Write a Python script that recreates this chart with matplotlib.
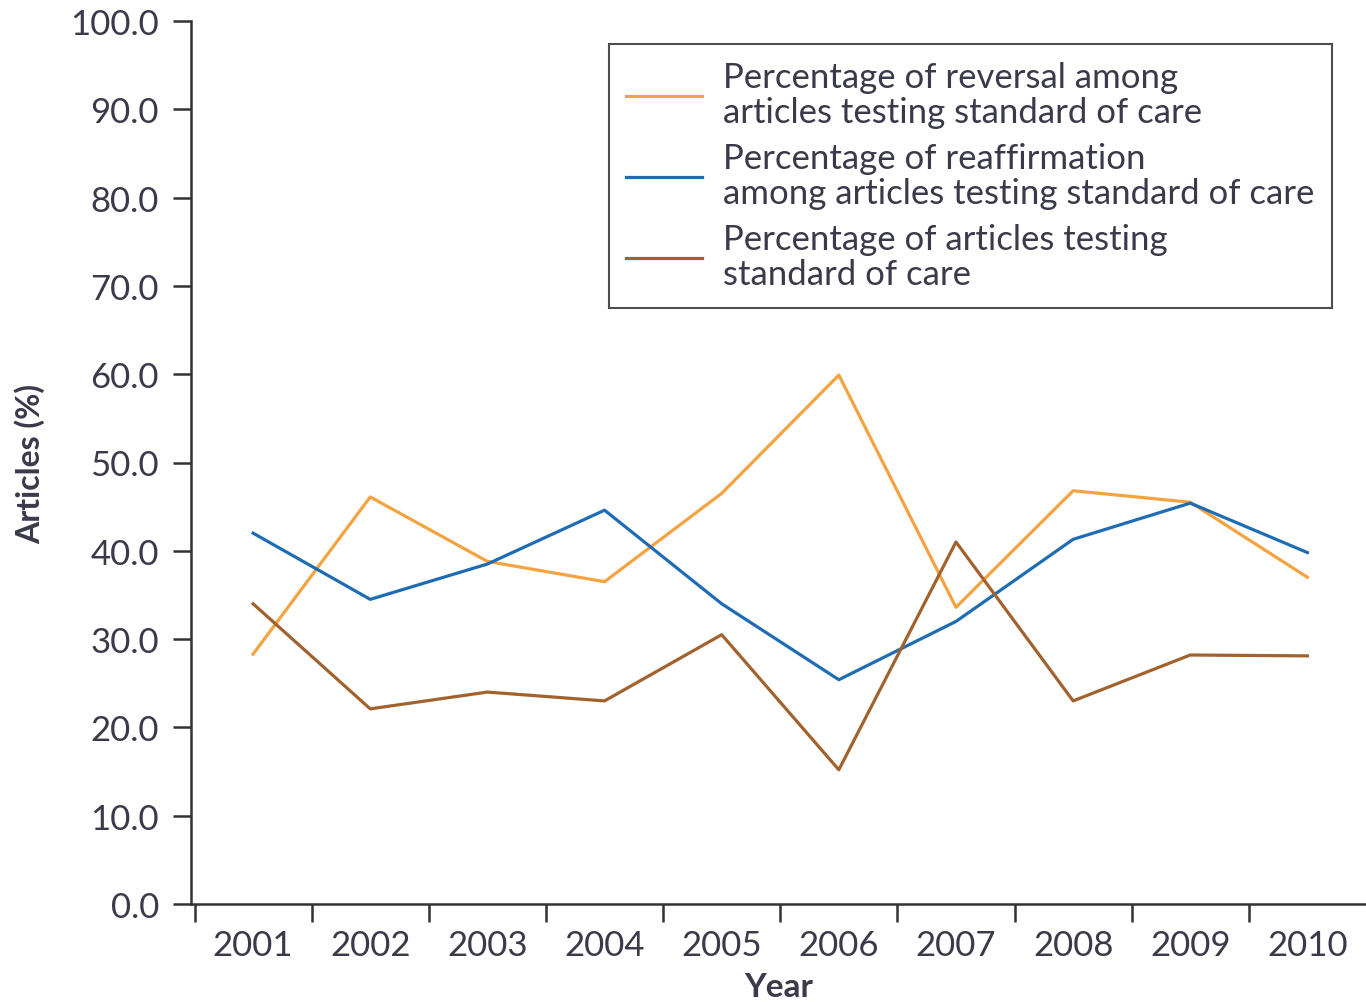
import matplotlib
matplotlib.use("Agg")
import matplotlib.pyplot as plt

years = ["2001", "2002", "2003", "2004", "2005", "2006", "2007", "2008", "2009", "2010"]
reversal = [28.3, 46.1, 38.8, 36.5, 46.5, 59.9, 33.6, 46.8, 45.5, 37.0]
reaffirmation = [42.0, 34.5, 38.5, 44.6, 34.0, 25.4, 32.0, 41.3, 45.4, 39.8]
testing_soc = [34.0, 22.1, 24.0, 23.0, 30.5, 15.2, 41.0, 23.0, 28.2, 28.1]
labels = [
    "Percentage of reversal among\narticles testing standard of care",
    "Percentage of reaffirmation\namong articles testing standard of care",
    "Percentage of articles testing\nstandard of care",
]
yticks = [0, 10, 20, 30, 40, 50, 60, 70, 80, 90, 100]

plt.rcParams['font.family'] = ['Lato', 'DejaVu Sans']
txt = '#3a3a4a'
fs = 25

fig = plt.figure(figsize=(13.66, 10.03), dpi=100)
ax = fig.add_axes([191/1366, 1-905/1003, 1-191/1366, (905-22)/1003])

x = list(range(len(years)))
ax.plot(x, reversal, color='#F5A340', lw=2.3, label=labels[0])
ax.plot(x, reaffirmation, color='#1E6DB4', lw=2.3, label=labels[1])
ax.plot(x, testing_soc, color='#A2622E', lw=2.3, label=labels[2])

ax.set_xlim(-0.53, 9.5)
ax.set_ylim(0, 100)
ax.set_yticks(yticks)
ax.set_yticklabels([f"{v:.1f}" for v in yticks], fontsize=fs, color=txt)
ax.set_xticks([i - 0.5 for i in range(len(years))])
ax.set_xticklabels([])
ax.set_xticks(x, minor=True)
ax.set_xticklabels(years, minor=True, fontsize=fs, color=txt)
ax.tick_params(axis='x', which='minor', length=0, pad=18)
ax.tick_params(axis='x', which='major', length=13, width=1.8, direction='out', color='#333333')
ax.tick_params(axis='y', length=13, width=1.8, direction='out', color='#333333', pad=10)
for s in ['top', 'right']:
    ax.spines[s].set_visible(False)
for s in ['left', 'bottom']:
    ax.spines[s].set_linewidth(1.8)
    ax.spines[s].set_color('#333333')

ax.set_xlabel("Year", fontsize=24, fontweight='bold', color=txt, labelpad=8)
ax.set_ylabel("Articles (%)", fontsize=23, fontweight='bold', color=txt, labelpad=18)

leg = ax.legend(loc='upper right', bbox_to_anchor=((1332-191)/1175, (905-45)/883),
                fontsize=fs, frameon=True, fancybox=False, borderpad=0.5,
                handlelength=2.2, handletextpad=0.6, labelspacing=0.4,
                labelcolor=txt, borderaxespad=0)
for t in leg.get_texts():
    t.set_linespacing(1.12)
leg.get_frame().set_edgecolor('#222222')
leg.get_frame().set_linewidth(1.5)

fig.savefig("out.png", dpi=100)
